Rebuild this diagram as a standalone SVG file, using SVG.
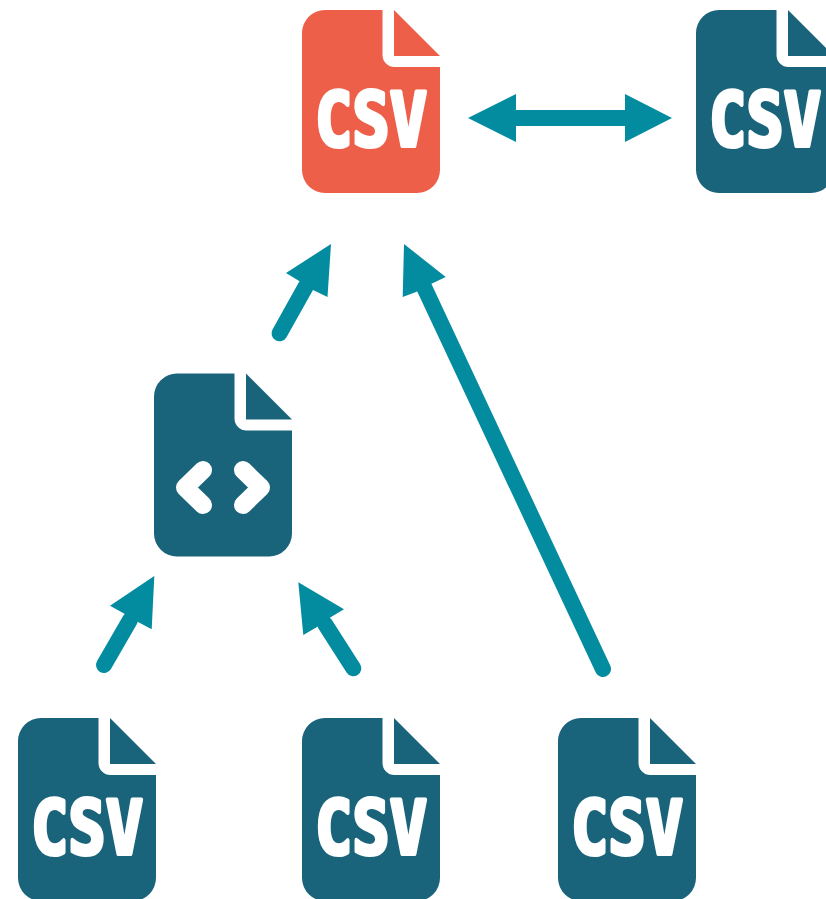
<svg xmlns="http://www.w3.org/2000/svg" width="826" height="899" viewBox="0 0 826 899">
<style>
.body{fill:#1a647b}
.hot{fill:#ee5f49}
.csv{font-family:"DejaVu Sans Mono","Liberation Mono",monospace;font-weight:700;font-size:62px;fill:#fff;stroke:#fff;stroke-width:3.500px;stroke-linejoin:round;text-anchor:middle}
.code{fill:none;stroke:#fff;stroke-width:18px;stroke-linecap:round;stroke-linejoin:round}
.line{fill:none;stroke:#038ba0;stroke-width:16px;stroke-linecap:round}
.head{fill:#038ba0}
</style>
<defs>
<g id="doc">
<path d="M23,0H80.500V45a12,12 0 0 0 12,12H138V160a23,23 0 0 1 -23,23H23a23,23 0 0 1 -23,-23V23a23,23 0 0 1 23,-23Z"/>
<path d="M92,0L138,46H92Z"/>
</g>
</defs>
<g id="connectors">
<g id="edge-source-to-copy"><path class="line" d="M510,118H630" style="stroke-linecap:butt"/><path class="head" d="M468,118L516,94V142Z"/><path class="head" d="M672,118L625,94V142Z"/></g>
<g id="edge-code-to-source"><path class="line" d="M279.500,333.300L306,286"/><path class="head" d="M331,244L286,273L300,281.500L313,290L327.500,297Z"/></g>
<g id="edge-csv3-to-source"><path class="line" d="M603,669L424,287"/><path class="head" d="M404,244L445.700,277L431,284L416,292L402.700,297Z"/></g>
<g id="edge-csv1-to-code"><path class="line" d="M104,665L130,620"/><path class="head" d="M154.300,576L110,605.700L124,613.500L138,622L151.700,629.300Z"/></g>
<g id="edge-csv2-to-code"><path class="line" d="M353.300,668.300L325,624"/><path class="head" d="M298.300,582.300L344,609.300L331,617L317,627L303.300,635Z"/></g>
</g>
<g id="node-source"><use href="#doc" x="302" y="10" class="hot"/><text class="csv" transform="translate(371,146) scale(1,1.21)">CSV</text></g>
<g id="node-copy"><use href="#doc" x="696" y="10" class="body"/><text class="csv" transform="translate(765,146) scale(1,1.21)">CSV</text></g>
<g id="node-code"><use href="#doc" x="154" y="373.500" class="body"/><path class="code" d="M203,470L185,487.500L203,505"/><path class="code" d="M243,470L261,487.500L243,505"/></g>
<g id="node-csv1"><use href="#doc" x="18" y="718" class="body"/><text class="csv" transform="translate(87,854) scale(1,1.21)">CSV</text></g>
<g id="node-csv2"><use href="#doc" x="302" y="718" class="body"/><text class="csv" transform="translate(371,854) scale(1,1.21)">CSV</text></g>
<g id="node-csv3"><use href="#doc" x="558" y="718" class="body"/><text class="csv" transform="translate(627,854) scale(1,1.21)">CSV</text></g>
</svg>
